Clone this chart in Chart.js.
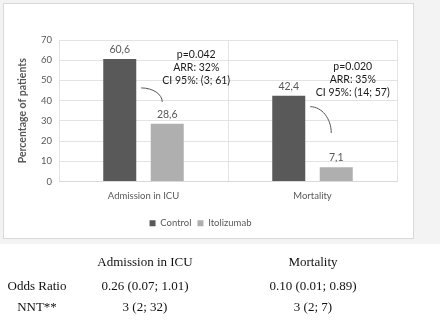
<!DOCTYPE html>
<html>
<head>
<meta charset="UTF-8">
<title>Admission in ICU / Mortality</title>
<script src="https://cdn.jsdelivr.net/npm/chart.js"></script>
<style>
    body { margin: 0; width: 440px; height: 321px; background: #fff; overflow: hidden; position: relative; font-family: Lato, sans-serif; }
    #backdrop { position: absolute; left: 0; top: 0; width: 440px; height: 244px; background: #f3f3f3; }
    #box { position: absolute; left: 3px; top: 3px; width: 409px; height: 234px; background: #fff; border: 1px solid #d9d9d9; }
    #box canvas { display: block; }
    #tbl { position: absolute; left: 0; top: 0; width: 440px; height: 321px; font-family: "Liberation Serif", "Times New Roman", serif; font-size: 13px; color: #111; }
    #tbl span { position: absolute; transform: translate(-50%, -50%); white-space: nowrap; }
</style>
</head>
<body>
<div id="backdrop"></div>
<div id="box"><canvas id="chart" width="409" height="234"></canvas></div>
<div id="tbl"></div>

<script>
// data
const categories = ['Admission in ICU', 'Mortality'];
const controlValues = [60.6, 42.4];
const itolizumabValues = [28.6, 7.1];
const yTicks = [0, 10, 20, 30, 40, 50, 60, 70];
const pTexts = ['p=0.042', 'p=0.020'];
const arrTexts = ['ARR: 32%', 'ARR: 35%'];
const ciTexts = ['CI 95%: (3; 61)', 'CI 95%: (14; 57)'];

// table under the chart
const tableHeaders = ['Admission in ICU', 'Mortality'];
const rowLabels = ['Odds Ratio', 'NNT**'];
const oddsRatios = ['0.26 (0.07; 1.01)', '0.10 (0.01; 0.89)'];
const nntValues = ['3 (2; 32)', '3 (2; 7)'];

// where the annotation blocks and curved arrows sit (in axis units / px offsets)
const noteTopValue = [62.6, 56.8];
const noteDx = [29, 16.5];
const arrowFrom = [46.3, 37];
const arrowTo = [39.4, 24];

const gray = '#595959';

// build the little table
const tbl = document.getElementById('tbl');
function cell(text, x, y) {
    const s = document.createElement('span');
    s.textContent = text;
    s.style.left = x + 'px';
    s.style.top = y + 'px';
    tbl.appendChild(s);
}
const colX = [145, 313];
tableHeaders.forEach((t, i) => cell(t, colX[i], 262));
cell(rowLabels[0], 37, 286);
cell(rowLabels[1], 37, 307);
oddsRatios.forEach((t, i) => cell(t, colX[i], 286));
nntValues.forEach((t, i) => cell(t, colX[i], 307));

const fmt = v => v.toFixed(1).replace('.', ',');

const notesPlugin = {
    id: 'notes',
    afterDatasetsDraw(chart) {
        const ctx = chart.ctx;
        const y = chart.scales.y;
        const ctrl = chart.getDatasetMeta(0).data;
        const itol = chart.getDatasetMeta(1).data;
        ctx.save();
        // value labels
        ctx.font = '10.5px Lato';
        ctx.fillStyle = gray;
        ctx.textAlign = 'center';
        ctx.textBaseline = 'bottom';
        [ctrl, itol].forEach((bars, d) => {
            bars.forEach((b, i) => {
                const v = chart.data.datasets[d].data[i];
                ctx.fillText(fmt(v), b.x, b.y - 4);
            });
        });
        // p / ARR / CI notes
        ctx.fillStyle = '#1a1a1a';
        ctx.textBaseline = 'middle';
        categories.forEach((c, i) => {
            const cx = itol[i].x + noteDx[i];
            const top = y.getPixelForValue(noteTopValue[i]);
            ctx.fillText(pTexts[i], cx, top);
            ctx.fillText(arrTexts[i], cx, top + 13);
            ctx.fillText(ciTexts[i], cx, top + 26);
        });
        // curved arrows
        ctx.strokeStyle = '#555';
        ctx.lineWidth = 1;
        categories.forEach((c, i) => {
            const x0 = ctrl[i].x + ctrl[i].width / 2 + 5;
            const y0 = y.getPixelForValue(arrowFrom[i]);
            const x1 = itol[i].x - 5;
            const y1 = y.getPixelForValue(arrowTo[i]);
            ctx.beginPath();
            ctx.moveTo(x0, y0);
            ctx.bezierCurveTo(x0 + (x1 - x0) * 0.55, y0, x1, y0 + (y1 - y0) * 0.45, x1, y1);
            ctx.stroke();
        });
        ctx.restore();
    }
};

new Chart(document.getElementById('chart').getContext('2d'), {
    type: 'bar',
    data: {
        labels: categories,
        datasets: [
            { label: 'Control', data: controlValues, backgroundColor: '#595959', categoryPercentage: 0.562, barPercentage: 0.695 },
            { label: 'Itolizumab', data: itolizumabValues, backgroundColor: '#afafaf', categoryPercentage: 0.562, barPercentage: 0.695 }
        ]
    },
    options: {
        responsive: false,
        animation: false,
        layout: { padding: { left: 0, right: 16, top: 36, bottom: 0 } },
        plugins: {
            tooltip: { enabled: false },
            legend: {
                position: 'bottom',
                labels: { boxWidth: 6, boxHeight: 6, padding: 6, color: gray, font: { family: 'Lato', size: 9.5 } }
            }
        },
        scales: {
            x: {
                grid: { offset: true, color: '#e3e3e3', drawTicks: false },
                border: { color: '#d9d9d9' },
                ticks: { color: gray, padding: 9, font: { family: 'Lato', size: 9.5 } },
                afterFit(s) { s.height = 31; }
            },
            y: {
                min: 0, max: 70,
                afterBuildTicks(s) { s.ticks = yTicks.map(v => ({ value: v })); },
                grid: { color: '#e3e3e3', drawTicks: false },
                border: { display: false },
                ticks: { color: gray, padding: 7, font: { family: 'Lato', size: 9.5 } },
                title: { display: true, text: 'Percentage of patients', color: gray, font: { family: 'Lato', size: 10.5, weight: 'bold' }, padding: { top: 12, bottom: 0 } },
                afterFit(s) { s.width = 55; }
            }
        }
    },
    plugins: [notesPlugin]
});
</script>
</body>
</html>
